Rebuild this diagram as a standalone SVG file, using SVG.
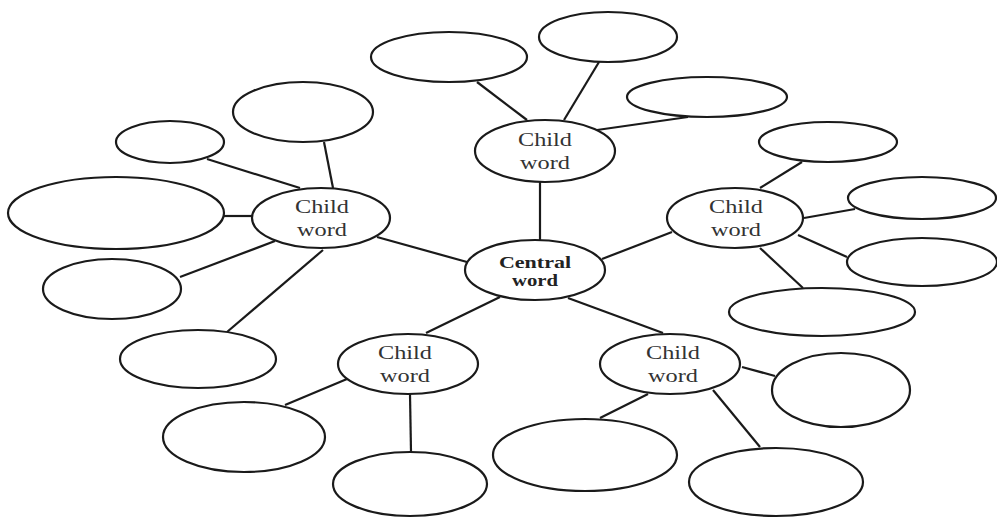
<svg xmlns="http://www.w3.org/2000/svg" width="997" height="518" viewBox="0 0 997 518">
<style>
ellipse{fill:#fff;stroke:#1a1a1a;stroke-width:2.2}
#connectors line{stroke:#1a1a1a;stroke-width:2.2}
text{font-family:"Liberation Serif","Times New Roman",serif;fill:#333;text-anchor:middle}
.c{font-size:19px}
.b{font-size:16px;font-weight:bold;fill:#222}
</style>
<rect width="997" height="518" fill="#fff"/>
<g id="connectors">
<line x1="540" y1="182" x2="540" y2="240"/>
<line x1="477" y1="82" x2="527" y2="120"/>
<line x1="599" y1="62" x2="564" y2="120"/>
<line x1="688" y1="117" x2="597" y2="130"/>
<line x1="377" y1="237" x2="467" y2="262"/>
<line x1="207" y1="159" x2="300" y2="188"/>
<line x1="324" y1="142" x2="333" y2="188"/>
<line x1="224" y1="216" x2="253" y2="216"/>
<line x1="180" y1="277" x2="275" y2="241"/>
<line x1="227" y1="332" x2="323" y2="250"/>
<line x1="672" y1="232" x2="602" y2="259"/>
<line x1="802" y1="162" x2="760" y2="188"/>
<line x1="804" y1="218" x2="855" y2="209"/>
<line x1="798" y1="235" x2="847" y2="257"/>
<line x1="760" y1="248" x2="803" y2="288"/>
<line x1="426" y1="333" x2="500" y2="297"/>
<line x1="285" y1="405" x2="347" y2="379"/>
<line x1="410" y1="394" x2="411" y2="452"/>
<line x1="568" y1="298" x2="663" y2="333"/>
<line x1="742" y1="367" x2="775" y2="376"/>
<line x1="648" y1="394" x2="600" y2="418"/>
<line x1="713" y1="390" x2="760" y2="447"/>
</g>
<g id="central"><ellipse cx="535" cy="270" rx="70" ry="30"/><text class="b" x="535" y="268" textLength="72" lengthAdjust="spacingAndGlyphs">Central</text><text class="b" x="535" y="286" textLength="46" lengthAdjust="spacingAndGlyphs">word</text></g>
<g id="child-top"><ellipse cx="545" cy="151" rx="70" ry="31"/><text class="c" x="545" y="146" textLength="54" lengthAdjust="spacingAndGlyphs">Child</text><text class="c" x="545" y="169" textLength="50" lengthAdjust="spacingAndGlyphs">word</text></g>
<g id="child-left"><ellipse cx="321" cy="218" rx="69" ry="30"/><text class="c" x="322" y="213" textLength="54" lengthAdjust="spacingAndGlyphs">Child</text><text class="c" x="322" y="236" textLength="50" lengthAdjust="spacingAndGlyphs">word</text></g>
<g id="child-right"><ellipse cx="735" cy="218" rx="68" ry="30"/><text class="c" x="736" y="213" textLength="54" lengthAdjust="spacingAndGlyphs">Child</text><text class="c" x="736" y="236" textLength="50" lengthAdjust="spacingAndGlyphs">word</text></g>
<g id="child-bottom-left"><ellipse cx="408" cy="364" rx="70" ry="30"/><text class="c" x="405" y="359" textLength="54" lengthAdjust="spacingAndGlyphs">Child</text><text class="c" x="405" y="382" textLength="50" lengthAdjust="spacingAndGlyphs">word</text></g>
<g id="child-bottom-right"><ellipse cx="670" cy="364" rx="70" ry="30"/><text class="c" x="673" y="359" textLength="54" lengthAdjust="spacingAndGlyphs">Child</text><text class="c" x="673" y="382" textLength="50" lengthAdjust="spacingAndGlyphs">word</text></g>
<g id="leaf-t1"><ellipse cx="449" cy="57" rx="78" ry="25"/></g>
<g id="leaf-t2"><ellipse cx="608" cy="37" rx="69" ry="25"/></g>
<g id="leaf-t3"><ellipse cx="707" cy="97" rx="80" ry="20"/></g>
<g id="leaf-l1"><ellipse cx="170" cy="142" rx="54" ry="21"/></g>
<g id="leaf-l2"><ellipse cx="303" cy="112" rx="70" ry="30"/></g>
<g id="leaf-l3"><ellipse cx="116" cy="213" rx="108" ry="36"/></g>
<g id="leaf-l4"><ellipse cx="112" cy="289" rx="69" ry="30"/></g>
<g id="leaf-l5"><ellipse cx="198" cy="359" rx="78" ry="29"/></g>
<g id="leaf-r1"><ellipse cx="828" cy="142" rx="69" ry="20"/></g>
<g id="leaf-r2"><ellipse cx="922" cy="198" rx="74" ry="21"/></g>
<g id="leaf-r3"><ellipse cx="922" cy="262" rx="75" ry="24"/></g>
<g id="leaf-r4"><ellipse cx="822" cy="312" rx="93" ry="24"/></g>
<g id="leaf-bl1"><ellipse cx="244" cy="437" rx="81" ry="35"/></g>
<g id="leaf-bl2"><ellipse cx="410" cy="484" rx="77" ry="32"/></g>
<g id="leaf-br1"><ellipse cx="841" cy="390" rx="69" ry="37"/></g>
<g id="leaf-br2"><ellipse cx="585" cy="455" rx="92" ry="36"/></g>
<g id="leaf-br3"><ellipse cx="776" cy="482" rx="87" ry="34"/></g>
</svg>
